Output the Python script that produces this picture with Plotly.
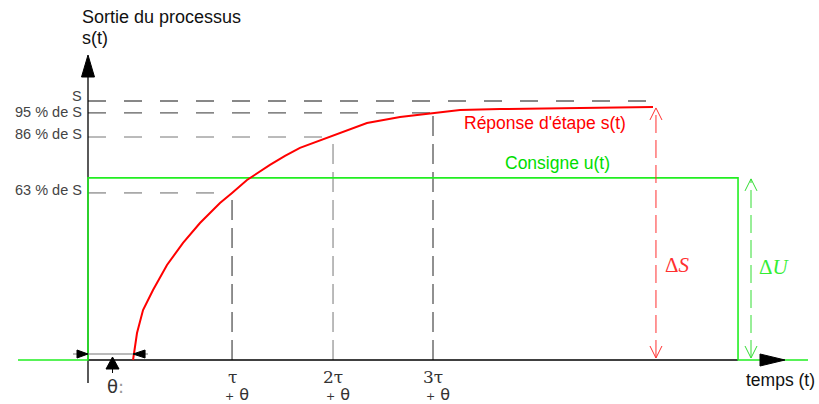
import plotly.graph_objects as go

# ---------------- data ----------------
# time in units of tau, output as fraction of S
curve_t = [0.455, 0.495, 0.556, 0.657, 0.798, 0.960, 1.131, 1.333, 1.455, 1.606,
           1.838, 1.990, 2.141, 2.273, 2.475, 2.818, 3.152, 3.485, 3.758, 4.162,
           4.768, 5.707]
curve_s = [0.000, 0.104, 0.193, 0.270, 0.367, 0.452, 0.529, 0.606, 0.645, 0.695,
           0.753, 0.788, 0.819, 0.838, 0.865, 0.915, 0.938, 0.954, 0.965, 0.969,
           0.973, 0.977]

level_labels = ["S", "95 % de S", "86 % de S", "63 % de S"]
level_values = [1.000, 0.954, 0.861, 0.645]
level_ends = [5.707, 3.485, 2.475, 1.455]
level_colors = ["#111111", "#333333", "#777777", "#666666"]
level_label_shift = [5, 0.5, 3, 3]

tick_times = [1.455, 2.475, 3.485]
tick_labels = ["τ", "2τ", "3τ"]
tick_colors = ["#222222", "#777777", "#222222"]

theta = 0.455
step_value = 0.703
step_start = 0.0
step_end = 6.566
final_value = 0.977
dS_time = 5.737
dU_time = 6.697
axis_left = -0.707
axis_right = 7.273

# ---------------- geometry helpers ----------------
W, H = 819, 404
PX = 99.0   # pixels per tau
PY = 259.0  # pixels per S
X0, Y0 = 88.0, 360.0
xr = [(0 - X0) / PX, (W - X0) / PX]
yr = [(Y0 - H) / PY, (Y0 - 0) / PY]


def dx(p):
    return p / PX


def dy(p):
    return p / PY


fig = go.Figure()


def line(xs, ys, color, width=1.0, dash=None):
    fig.add_trace(go.Scatter(x=xs, y=ys, mode="lines", hoverinfo="skip",
                             line=dict(color=color, width=width, dash=dash),
                             showlegend=False))


def poly(xs, ys, color):
    fig.add_trace(go.Scatter(x=xs + [xs[0]], y=ys + [ys[0]], mode="lines",
                             fill="toself", fillcolor=color, hoverinfo="skip",
                             line=dict(color=color, width=1), showlegend=False))


def text(x, y, s, size, color, xanchor="center", family="Liberation Sans, Arial, sans-serif"):
    fig.add_annotation(x=x, y=y, xref="x", yref="y", text=s, showarrow=False,
                       xanchor=xanchor, yanchor="middle",
                       font=dict(size=size, color=color, family=family))


# dashed levels
for lab, v, e, c, sh in zip(level_labels, level_values, level_ends, level_colors, level_label_shift):
    line([0, e], [v, v], c, 1.0, "18px,18px")
    text(dx(-4), v + dy(sh), lab, 14.5, "#444444", xanchor="right")

# vertical dashed lines + tick labels
for t, lab, c, v in zip(tick_times, tick_labels, tick_colors, level_values[1:][::-1]):
    line([t, t], [0, v], c, 1.0, "20px,8px")
    text(t, dy(-17), lab, 17, "#333333", family="DejaVu Serif, serif")
    text(t + dx(5), dy(-34), "<span style='font-size:11px'>+</span> θ", 16, "#333333",
         family="DejaVu Sans, sans-serif")

# axes (black)
line([0, 0], [dy(-23), dy(283)], "black", 1.3)
line([0, step_end], [0, 0], "black", 1.3)

# step input (green)
line([axis_left, step_start, step_start, step_end, step_end, axis_right],
     [0, 0, step_value, step_value, 0, 0], "#22ee22", 1.6)

# y arrowhead
poly([dx(-6.5), dx(6.5), 0], [dy(283), dy(283), dy(305)], "black")
# x arrowhead
poly([dx(672), dx(672), dx(697)], [dy(6), dy(-6), 0], "black")

# step response (red)
line(curve_t, curve_s, "#ff0000", 2.0)

# theta dimension
ydim = dy(6)
line([dx(-15), dx(60)], [ydim, ydim], "#777777", 1.2)
poly([dx(-11), dx(-11), 0], [ydim + dy(4), ydim - dy(4), ydim], "black")
poly([theta + dx(12), theta + dx(12), theta], [ydim + dy(4), ydim - dy(4), ydim], "black")
tm = theta / 2 + dx(2)
poly([tm - dx(6.5), tm + dx(6.5), tm], [dy(-9), dy(-9), dy(3)], "black")
line([tm, tm], [dy(-9), dy(-13)], "black", 1.0)
text(tm + dx(3), dy(-26), "θ<span style='color:#999'>:</span>", 18, "#333333",
     family="DejaVu Sans, sans-serif")


# dimension arrows
def varrow(t, top, color, dash):
    line([t, t], [dy(2), top], color, 1.0, dash)
    for tip, sgn in ((top, -1), (dy(2), 1)):
        line([t - dx(6), t, t + dx(6)], [tip + sgn * dy(12), tip, tip + sgn * dy(12)], color, 1.0)


varrow(dS_time, final_value - dy(1), "#ff3030", "18px,7px")
varrow(dU_time, step_value - dy(1), "#33dd33", "18px,7px")

text(dS_time + dx(22), dy(95), "Δ<i>S</i>", 21, "#ff3030", family="Liberation Serif, Times New Roman, serif")
text(dU_time + dx(23), dy(93), "Δ<i>U</i>", 21, "#33ee33", family="Liberation Serif, Times New Roman, serif")

# titles / labels
text(dx(-8), dy(343), "Sortie du processus", 18, "#111111", xanchor="left")
text(dx(-8), dy(322), "s(t)", 18, "#111111", xanchor="left")
text(dx(457), dy(237), "Réponse d'étape s(t)", 17.5, "#ff0000")
text(dx(469), dy(197), "Consigne u(t)", 17.5, "#00dd00")
text(dx(692), dy(-20), "temps (t)", 17.5, "#111111")

fig.update_layout(
    width=W, height=H, autosize=False,
    margin=dict(l=0, r=0, t=0, b=0),
    paper_bgcolor="white", plot_bgcolor="white",
    xaxis=dict(range=xr, visible=False, fixedrange=True),
    yaxis=dict(range=yr, visible=False, fixedrange=True),
)

fig.write_html("out.html", config={"displayModeBar": False},
               post_script="document.body.style.margin='0px';document.body.style.overflow='hidden';")
